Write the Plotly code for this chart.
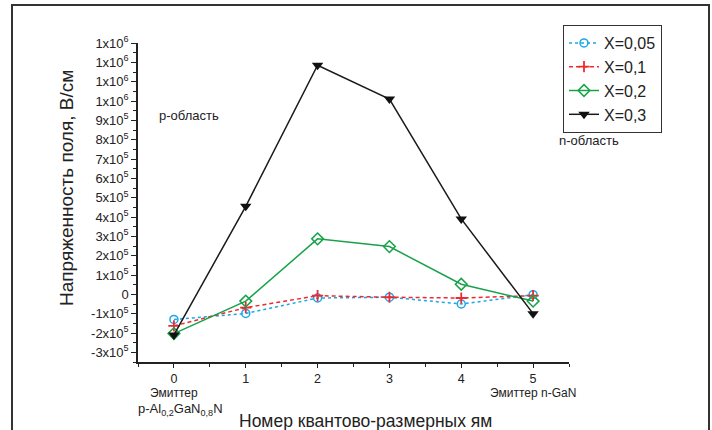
import plotly.graph_objects as go

# Quantum well number (0 = p-emitter, 5 = n-emitter)
wells = [0, 1, 2, 3, 4, 5]

# Electric field strength, V/cm, for each Al fraction X
field_x005 = [-1.30e5, -0.99e5, -0.19e5, -0.15e5, -0.50e5, -0.02e5]
field_x01 = [-1.63e5, -0.69e5, -0.07e5, -0.15e5, -0.19e5, -0.07e5]
field_x02 = [-2.03e5, -0.35e5, 2.87e5, 2.47e5, 0.52e5, -0.35e5]
field_x03 = [-2.10e5, 4.55e5, 1.185e6, 1.01e6, 3.90e5, -1.00e5]

series_names = ["X=0,05", "X=0,1", "X=0,2", "X=0,3"]

y_tick_vals = [v * 1e5 for v in range(-3, 14)]
y_tick_text = (
    ["-3x10<sup>5</sup>", "-2x10<sup>5</sup>", "-1x10<sup>5</sup>", "0"]
    + [f"{k}x10<sup>5</sup>" for k in range(1, 10)]
    + ["1x10<sup>6</sup>"] * 4
)

FONT = "Liberation Sans, Arial, sans-serif"

fig = go.Figure()

fig.add_trace(go.Scatter(
    x=wells, y=field_x005, name=series_names[0], mode="lines+markers",
    line=dict(color="#1aa7e8", width=1.5, dash="dot"),
    marker=dict(symbol="circle-open", size=8, color="#1aa7e8", line=dict(width=1.5)),
))
fig.add_trace(go.Scatter(
    x=wells, y=field_x01, name=series_names[1], mode="lines+markers",
    line=dict(color="#ee2a2f", width=1.5, dash="4px,3px"),
    marker=dict(symbol="cross-thin-open", size=8, color="#ee2a2f", line=dict(width=1.8, color="#ee2a2f")),
))
fig.add_trace(go.Scatter(
    x=wells, y=field_x02, name=series_names[2], mode="lines+markers",
    line=dict(color="#17a24a", width=1.5),
    marker=dict(symbol="diamond-open", size=9, color="#17a24a", line=dict(width=1.5)),
))
fig.add_trace(go.Scatter(
    x=wells, y=field_x03, name=series_names[3], mode="lines+markers",
    line=dict(color="#1a1a1a", width=1.5),
    marker=dict(symbol="triangle-down", size=10, color="#111111"),
))

# paper-coordinate helpers (plot area spans 138..569 px horizontally, 43..362 px vertically)
def px_x(p):
    return (p - 138) / 431

def px_y(p):
    return (362 - p) / 319

def note(text, x, y, size, xref="paper", xanchor="center", angle=0):
    return dict(text=text, x=x, y=y, xref=xref, yref="paper", xanchor=xanchor,
                yanchor="middle", textangle=angle, showarrow=False,
                font=dict(size=size, family=FONT, color="#222"))

annotations = [
    note("Напряженность поля, В/см", px_x(66), px_y(188), 19, angle=-90),
    note("Номер квантово-размерных ям", px_x(365), px_y(421), 17.5),
    note("p-область", px_x(157), px_y(116), 13, xanchor="left"),
    note("n-область", px_x(557), px_y(140), 13, xanchor="left"),
    note("Эмиттер", 0, px_y(393), 12, xref="x"),
    note("p-Al<sub>0,2</sub>GaN<sub>0,8</sub>N", px_x(180), px_y(409), 13),
    note("Эмиттер n-GaN", 5, px_y(393), 12, xref="x"),
]

fig.update_layout(
    width=712, height=430,
    margin=dict(l=138, r=143, t=43, b=68),
    paper_bgcolor="white", plot_bgcolor="white",
    font=dict(family=FONT, color="#222"),
    showlegend=True,
    legend=dict(
        x=px_x(563), y=px_y(25), xanchor="left", yanchor="top",
        bordercolor="#333", borderwidth=1, bgcolor="white",
        font=dict(size=16, family=FONT, color="#222"),
        itemwidth=30, tracegroupgap=0,
    ),
    xaxis=dict(
        range=[-0.5, 5.5], tickvals=wells, ticktext=[str(w) for w in wells],
        showline=True, linecolor="#222", linewidth=1.5, showgrid=False, zeroline=False,
        ticks="outside", ticklen=4, tickcolor="#222", tickfont=dict(size=12.5, family=FONT),
        minor=dict(tickmode="linear", tick0=0.5, dtick=1, ticks="outside", ticklen=3, tickcolor="#222"),
        automargin=False,
    ),
    yaxis=dict(
        range=[-3.5e5, 1.3e6], tickvals=y_tick_vals, ticktext=y_tick_text,
        showline=True, linecolor="#222", linewidth=1.5, showgrid=False, zeroline=False,
        ticks="outside", ticklen=5, tickcolor="#222", tickfont=dict(size=13, family=FONT),
        minor=dict(tickmode="linear", tick0=5e4, dtick=1e5, ticks="outside", ticklen=3, tickcolor="#222"),
        automargin=False,
    ),
    annotations=annotations,
    shapes=[dict(type="rect", xref="paper", yref="paper",
                 x0=px_x(12), x1=px_x(709), y0=px_y(440), y1=px_y(5),
                 line=dict(color="#333", width=2), layer="below")],
)

fig.write_html("out.html")
